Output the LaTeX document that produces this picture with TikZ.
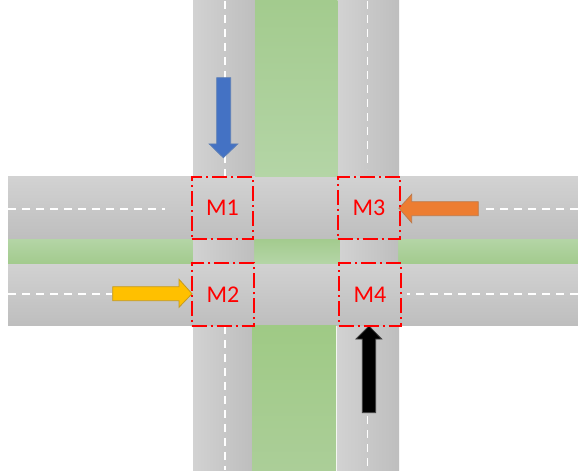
\documentclass[tikz,border=0pt]{standalone}
\usepackage{fontspec}
\setmainfont{Carlito}
\definecolor{rl}{HTML}{D2D2D2}
\definecolor{rd}{HTML}{BEBEBE}
\definecolor{gd}{HTML}{A3CB8E}
\definecolor{gl}{HTML}{B4D5A6}
\definecolor{gbd}{HTML}{9FCA85}
\definecolor{gbl}{HTML}{ABCE98}
\definecolor{ablue}{HTML}{4472C4}
\definecolor{ablueb}{HTML}{5A7DB5}
\definecolor{aorange}{HTML}{ED7D31}
\definecolor{aorangeb}{HTML}{BE7A4A}
\definecolor{ayellow}{HTML}{FFC000}
\definecolor{ayellowb}{HTML}{C49A20}
\tikzset{x=1pt,y=-1pt,
 vroad/.style={left color=rl,right color=rd,draw=none},
 hroad/.style={top color=rl,bottom color=rd,draw=none},
 gdown/.style={top color=gd,bottom color=gl,draw=none},
 gup/.style={top color=gl,bottom color=gd,draw=none},
 gbot/.style={top color=gbd,bottom color=gbl,draw=none},
 lane/.style={white,line width=1.5pt,dash pattern=on 8pt off 6pt},
 zone/.style={draw=red,line width=2.2pt,dash pattern=on 15pt off 4pt on 2pt off 4pt,inner sep=0pt,text=red,font=\fontsize{24}{28}\selectfont},
 arr/.style={line width=.8pt,line join=miter},
}
\begin{document}
\begin{tikzpicture}
\useasboundingbox (0,0) rectangle (578,473);
\fill[white] (0,0) rectangle (578,473);
% vertical roads
\fill[vroad] (193,1) rectangle (255,177);
\fill[vroad] (337.5,1) rectangle (399,177);
\fill[vroad] (193,325) rectangle (252,470);
\fill[vroad] (337,325) rectangle (399,470);
% horizontal roads
\fill[hroad] (8,177) rectangle (578,239);
\fill[hroad] (8,263) rectangle (578,325);
% medians
\fill[gdown] (255,1) rectangle (337.5,177);
\fill[gbot] (252,325) rectangle (336,470);
\fill[gup] (8,239) rectangle (193,263);
\fill[gup] (398,239) rectangle (578,263);
\fill[gdown] (254,239) rectangle (340,263);
\fill[vroad] (193,239) rectangle (254,263);
\fill[vroad] (340,239) rectangle (398,263);
% lane markings
\coordinate (v1a) at (225,1); \coordinate (v1b) at (225,176);
\coordinate (v2a) at (367.7,1); \coordinate (v2b) at (367.7,169);
\coordinate (v3a) at (225,326); \coordinate (v3b) at (225,470);
\coordinate (v4a) at (367.7,416); \coordinate (v4b) at (367.7,470);
\coordinate (h1a) at (8,209); \coordinate (h1b) at (165,209);
\coordinate (h2a) at (578,209); \coordinate (h2b) at (483,209);
\coordinate (h3a) at (8,294); \coordinate (h3b) at (112,294);
\coordinate (h4a) at (578,294); \coordinate (h4b) at (407,294);
\foreach \p/\q in {v1a/v1b,v2a/v2b,v3a/v3b,v4a/v4b,h1a/h1b,h2a/h2b,h3a/h3b,h4a/h4b}
  \draw[lane] (\p)--(\q);
% arrows
\draw[arr,fill=ablue,draw=ablueb] (216.7,77.7)--(230.7,77.7)--(230.7,144)--(237.7,144)--(223.3,157.7)--(209.3,144)--(216.7,144)--cycle;
\draw[arr,fill=black,draw=black!75] (362.3,412.7)--(375.7,412.7)--(375.7,339)--(381.7,339)--(369,326)--(356,339)--(362.3,339)--cycle;
\draw[arr,fill=ayellow,draw=ayellowb] (112.7,286.7)--(179,286.7)--(179,279.3)--(192,293.7)--(179,307.3)--(179,300.7)--(112.7,300.7)--cycle;
\draw[arr,fill=aorange,draw=aorangeb] (478.3,201.7)--(411.7,201.7)--(411.7,194.3)--(399,208.3)--(411.7,222.7)--(411.7,215.7)--(478.3,215.7)--cycle;
% zones
\node[zone,minimum width=61.6pt,minimum height=62.3pt] (m1) at (222.5,207.85) {M1};
\node[zone,minimum width=62.3pt,minimum height=62.3pt] (m3) at (368.85,207.85) {M3};
\node[zone,minimum width=62.6pt,minimum height=62.4pt] (m2) at (223,294.5) {M2};
\node[zone,minimum width=62.3pt,minimum height=62.4pt] (m4) at (369.85,294.5) {M4};
\end{tikzpicture}
\end{document}
